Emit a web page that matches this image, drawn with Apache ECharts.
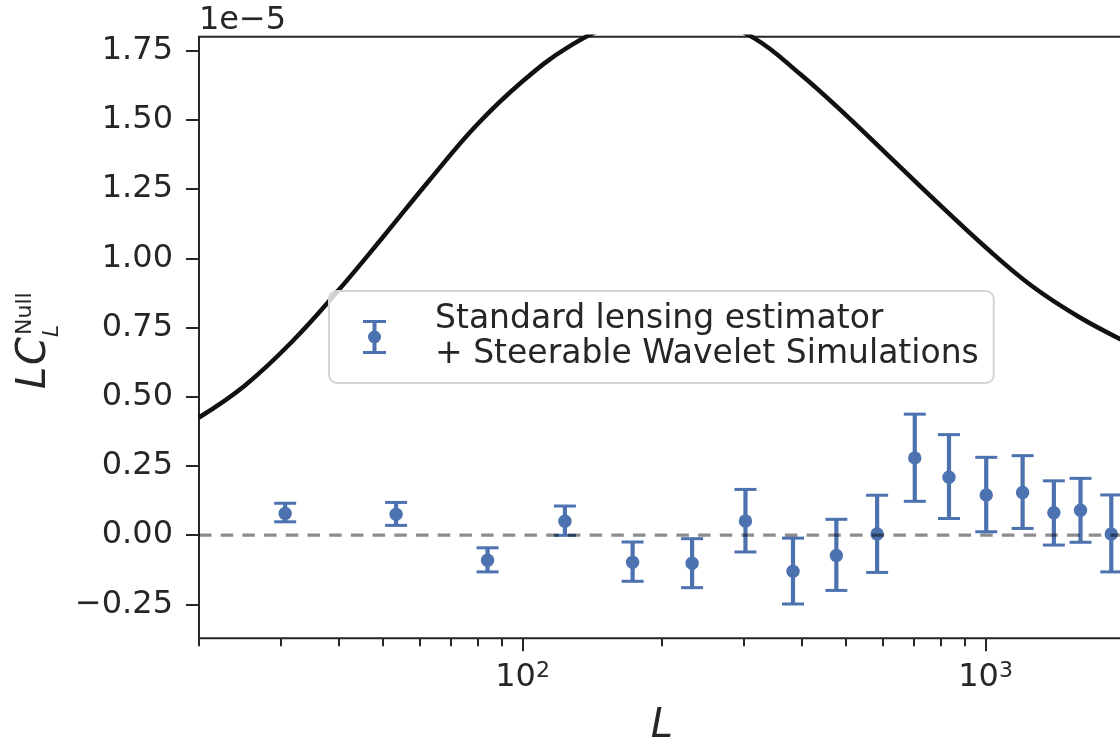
<!DOCTYPE html>
<html>
<head>
<meta charset="utf-8">
<script src="https://cdn.jsdelivr.net/npm/echarts@6/dist/echarts.min.js"></script>
<style>
  html, body { margin: 0; padding: 0; background: #ffffff; }
  #chart { width: 1120px; height: 739px; }
</style>
</head>
<body>
<div id="chart"></div>
<script>
// Null-test power spectrum L*C_L (units of 1e-5) against multipole L.

// Binned null-test points with their error-bar ends
const binL     = [30.7, 53.3, 84.0, 123.4, 172.8, 232.3, 302.9, 383.7, 476.0, 583.0, 703.0, 833.4, 1003, 1202, 1404, 1603, 1868];
const binMean  = [0.078, 0.075, -0.091, 0.050, -0.098, -0.102, 0.051, -0.131, -0.074, 0.004, 0.279, 0.209, 0.145, 0.154, 0.081, 0.090, 0.004];
const binUpper = [0.115, 0.118, -0.046, 0.105, -0.025, -0.013, 0.165, -0.011, 0.057, 0.144, 0.437, 0.363, 0.281, 0.287, 0.196, 0.205, 0.145];
const binLower = [0.048, 0.035, -0.133, -0.001, -0.167, -0.190, -0.061, -0.249, -0.200, -0.135, 0.122, 0.060, 0.012, 0.024, -0.036, -0.026, -0.133];

// Reference lensing spectrum curve
const modelL = [20, 25.1, 31.6, 39.8, 50.1, 63.1, 79.4, 100, 125.9, 158.5, 199.5, 251.2, 316.2, 398.1, 501.2, 631.0, 794.3, 1000, 1258.9, 1584.9, 2000];
const modelC = [0.425, 0.540, 0.695, 0.880, 1.080, 1.285, 1.480, 1.640, 1.765, 1.845, 1.879, 1.863, 1.796, 1.665, 1.515, 1.355, 1.195, 1.040, 0.900, 0.790, 0.700];

// Axis ticks
const yTicks = [-0.25, 0, 0.25, 0.5, 0.75, 1.0, 1.25, 1.5, 1.75];
const xMajorTicks = [100, 1000];
const xMinorTicks = [20, 30, 40, 50, 60, 70, 80, 90, 200, 300, 400, 500, 600, 700, 800, 900, 2000];

const seriesName = 'Standard lensing estimator + Steerable Wavelet Simulations';

const FONT = '"DejaVu Sans", "Liberation Sans", sans-serif';
const INK = '#262626';
const BLUE = '#4C72B0';
const X_MIN = 20, X_MAX = 2000, Y_MIN = -0.373, Y_MAX = 1.801;

const errorData = binL.map((L, i) => [L, binMean[i], binLower[i], binUpper[i]]);
const curveData = modelL.map((L, i) => [L, modelC[i]]);

// legend glyph: caps, stem pieces and a filled dot
const errorbarIcon = 'path://M0,0H23V3H0Z M0,31H23V34H0Z M9.5,3H13.5V12H9.5Z M9.5,22H13.5V31H9.5Z M5,17A6.5,6.5,0,1,1,18,17A6.5,6.5,0,1,1,5,17Z';

function renderErrorBar(params, api) {
  const L = api.value(0);
  const c = api.coord([L, api.value(1)]);
  const lo = api.coord([L, api.value(2)]);
  const hi = api.coord([L, api.value(3)]);
  const cap = 11;
  const capStyle = { stroke: BLUE, lineWidth: 3 };
  return {
    type: 'group',
    children: [
      { type: 'line', shape: { x1: c[0], y1: hi[1], x2: c[0], y2: lo[1] }, style: { stroke: BLUE, lineWidth: 4.2 } },
      { type: 'line', shape: { x1: c[0] - cap, y1: hi[1], x2: c[0] + cap, y2: hi[1] }, style: capStyle },
      { type: 'line', shape: { x1: c[0] - cap, y1: lo[1], x2: c[0] + cap, y2: lo[1] }, style: capStyle },
      { type: 'circle', shape: { cx: c[0], cy: c[1], r: 6.7 }, style: { fill: BLUE } }
    ]
  };
}

const chart = echarts.init(document.getElementById('chart'), null, { renderer: 'canvas' });

chart.setOption({
  backgroundColor: '#ffffff',
  animation: false,
  textStyle: { fontFamily: FONT, color: INK },
  grid: {
    left: 199, top: 36.7, width: 926, height: 601.6,
    show: true, borderColor: INK, borderWidth: 2, backgroundColor: 'transparent',
    containLabel: false, outerBoundsMode: 'none'
  },
  xAxis: [
    {
      type: 'log', logBase: 10, min: X_MIN, max: X_MAX, position: 'bottom',
      axisLine: { show: false, onZero: false },
      splitLine: { show: false },
      axisTick: { show: true, customValues: xMajorTicks, length: 13, lineStyle: { color: INK, width: 2 } },
      axisLabel: {
        customValues: xMajorTicks,
        margin: 22,
        formatter: v => '{b|10}{s|' + Math.round(Math.log10(v)) + '}',
        rich: {
          b: { fontSize: 32, lineHeight: 34, color: INK, fontFamily: FONT },
          s: { fontSize: 22, lineHeight: 22, color: INK, fontFamily: FONT, verticalAlign: 'top' }
        }
      },
      name: 'L', nameLocation: 'middle', nameGap: 68,
      nameTextStyle: { fontSize: 40, fontStyle: 'italic', color: INK, fontFamily: FONT }
    },
    {
      type: 'log', logBase: 10, min: X_MIN, max: X_MAX, position: 'bottom',
      axisLine: { show: false, onZero: false },
      splitLine: { show: false },
      axisLabel: { show: false },
      axisTick: { show: true, customValues: xMinorTicks, length: 8, lineStyle: { color: INK, width: 2 } }
    }
  ],
  yAxis: {
    type: 'value', min: Y_MIN, max: Y_MAX,
    axisLine: { show: false, onZero: false },
    splitLine: { show: false },
    axisTick: { show: true, customValues: yTicks, length: 13, lineStyle: { color: INK, width: 2 } },
    axisLabel: {
      customValues: yTicks,
      margin: 26,
      fontSize: 32, color: INK, fontFamily: FONT,
      formatter: v => (v < 0 ? '\u2212' : '') + Math.abs(v).toFixed(2)
    },
    name: '1e\u22125', nameLocation: 'end', nameGap: 0.5,
    nameTextStyle: { fontSize: 32, color: INK, fontFamily: FONT, align: 'left', verticalAlign: 'bottom' }
  },
  legend: {
    left: 329, top: 291,
    padding: [11, 15, 11, 34],
    itemWidth: 23, itemHeight: 34,
    backgroundColor: 'rgba(255,255,255,0.8)',
    borderColor: '#d4d4d4', borderWidth: 2, borderRadius: 8,
    selectedMode: false,
    data: [{ name: seriesName, icon: errorbarIcon }],
    formatter: n => n.replace(' + ', '\n+ '),
    textStyle: { fontSize: 33, lineHeight: 35, color: INK, fontFamily: FONT, padding: [0, 0, 0, 44] }
  },
  graphic: [
    {
      // y-axis title: L C_L^{Null}, reading bottom to top
      type: 'group', x: 35, y: 387, rotation: Math.PI / 2, silent: true,
      children: [
        { type: 'text', x: -2, y: 0, style: { text: 'L', font: 'italic 40px "DejaVu Sans"', fill: INK, verticalAlign: 'middle' } },
        { type: 'text', x: 22, y: 0, style: { text: 'C', font: 'italic 40px "DejaVu Sans"', fill: INK, verticalAlign: 'middle' } },
        { type: 'text', x: 50, y: 17.5, style: { text: 'L', font: 'italic 22px "DejaVu Sans"', fill: INK, verticalAlign: 'middle' } },
        { type: 'text', x: 52, y: -9.5, style: { text: 'Null', font: '22px "DejaVu Sans"', fill: INK, verticalAlign: 'middle' } }
      ]
    }
  ],
  series: [
    {
      name: 'model', type: 'line', xAxisIndex: 0, data: curveData,
      showSymbol: false, smooth: 0.4, clip: true, silent: true, z: 2,
      lineStyle: { color: '#111111', width: 4.5 }
    },
    {
      name: seriesName, type: 'custom', xAxisIndex: 0, data: errorData,
      renderItem: renderErrorBar, encode: { x: 0, y: 1 },
      itemStyle: { color: BLUE }, z: 3, silent: true
    },
    {
      name: 'zero', type: 'line', xAxisIndex: 0, data: [[X_MIN, 0], [X_MAX, 0]],
      showSymbol: false, silent: true, z: 4,
      lineStyle: { color: 'rgba(0,0,0,0.45)', width: 3.3, type: [12.5, 9.2] }
    }
  ]
});
</script>
</body>
</html>
